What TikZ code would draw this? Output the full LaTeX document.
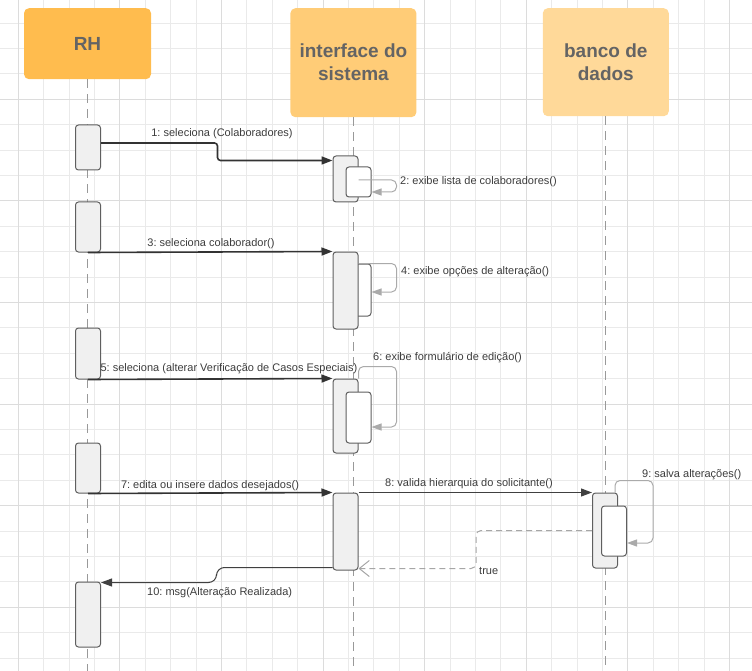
\documentclass[tikz,border=0pt]{standalone}
\usepackage{fontspec}
\setmainfont{Liberation Sans}
\usepackage{xcolor}
\definecolor{rhorange}{RGB}{255,188,78}
\definecolor{ifaceorange}{RGB}{255,204,119}
\definecolor{dborange}{RGB}{255,217,153}
\definecolor{gridminor}{RGB}{234,234,234}
\definecolor{gridmajor}{RGB}{220,220,220}
\definecolor{headtext}{RGB}{100,100,100}
\definecolor{msgtext}{RGB}{60,60,60}
\definecolor{boxline}{RGB}{95,95,95}
\definecolor{selfgrey}{RGB}{170,170,170}
\usetikzlibrary{arrows.meta, positioning, calc}
\frenchspacing

\begin{document}
\begin{tikzpicture}[x=1pt, y=-1pt,
    actor/.style={rectangle, rounded corners=5pt, minimum width=126, align=center,
                  text=headtext, font=\fontsize{19}{23}\selectfont\bfseries},
    actbox/.style={rectangle, rounded corners=3pt, draw=boxline, fill=black!6, line width=1pt,
                   minimum width=25, inner sep=0pt},
    subbox/.style={actbox, fill=white},
    lifeline/.style={dash pattern=on 9pt off 6pt, draw=black!40, line width=1pt},
    call/.style={-{Triangle[length=11pt,width=8pt]}, line width=1.6pt, black!80, rounded corners=3pt},
    selfcall/.style={-{Triangle[length=10pt,width=7pt]}, line width=1pt, selfgrey, rounded corners=5pt},
    thincall/.style={-{Triangle[length=11pt,width=8pt]}, line width=1pt, black!75, rounded corners=8pt},
    reply/.style={-{Straight Barb[length=10pt,width=16pt]}, dash pattern=on 6pt off 4pt,
                  line width=1pt, black!35, rounded corners=5pt},
    lbl/.style={text=msgtext, font=\fontsize{11}{13}\selectfont, inner sep=0pt, yshift=-1.5pt},
]
\useasboundingbox (0,0) rectangle (752,671);

% grid
\foreach \gx in {0,...,28} \draw[gridminor] ({18+25.4*\gx},0) -- ++(0,671);
\foreach \gy in {1,...,26} \draw[gridminor] (0,{-2.6+25.4*\gy}) -- ++(752,0);
\foreach \gx in {0,...,7} \draw[gridmajor] ({18+101.6*\gx},0) -- ++(0,671);
\foreach \gy in {1,...,6} \draw[gridmajor] (0,{-2.6+101.6*\gy}) -- ++(752,0);

% actors
\node[actor, fill=rhorange, minimum width=127, minimum height=71, anchor=north] (rh) at (87.5,8) {RH};
\node[actor, fill=ifaceorange, minimum height=109, right=139pt of rh.north east, anchor=north west] (iface) {interface do\\sistema};
\node[actor, fill=dborange, minimum height=108, right=126pt of iface.north east, anchor=north west] (db) {banco de\\dados};

% lifelines
\draw[lifeline] (rh.south) -- (rh.south |- 0,671);
\draw[lifeline] (iface.south) -- (iface.south |- 0,671);
\draw[lifeline] (db.south) -- (db.south |- 0,671);

% RH activations
\node[actbox, minimum height=45] (ra1) at (88,147.5) {};
\node[actbox, minimum height=50] (ra2) at (88,227) {};
\node[actbox, minimum height=51] (ra3) at (88,353.5) {};
\node[actbox, minimum height=50] (ra4) at (88,468) {};
\node[actbox, minimum height=65] (ra5) at (88,614.5) {};

% interface activations
\node[actbox, minimum height=46] (ia1) at (345.5,179) {};
\node[subbox, minimum height=30] (ib1) at (358.5,182) {};
\node[subbox, minimum height=52] (ib2) at (358.5,290) {};
\node[actbox, minimum height=77] (ia2) at (345.5,290.5) {};
\node[actbox, minimum height=74] (ia3) at (345.5,416) {};
\node[subbox, minimum height=51] (ib3) at (358.5,417.5) {};
\node[actbox, minimum height=77] (ia4) at (345.5,531.5) {};

% banco activations
\node[actbox, minimum height=75] (ba1) at (605,530.5) {};
\node[subbox, minimum height=50] (bb1) at (614,531) {};

% messages
\draw[call] ([yshift=4.5pt]ra1.east) -- ++(116.5,0) |- ([yshift=-5pt]ia1.north west);
\node[lbl] (l1) at (222,132) {1: seleciona (Colaboradores)};

\draw[selfcall] ([yshift=2pt]ib1.center) -- ++(38,0) |- ([yshift=-10pt]ib1.east);
\node[lbl, anchor=west] (l2) at (400,180) {2: exibe lista de colaboradores()};

\draw[call] (ra2.south) -- (ia2.north west);
\node[lbl] (l3) at (211,242) {3: seleciona colaborador()};

\draw[selfcall] ([yshift=-12pt]ia2.north east) -- ++(38,0) |- ([yshift=-2pt]ib2.east);
\node[lbl, anchor=west] (l4) at (401,270) {4: exibe opções de alteração()};

\draw[call] (ra3.south) -- (ia3.north west);
\node[lbl] (l5) at (229,367) {5: seleciona (alterar Verificação de Casos Especiais)};

\draw[selfcall] (ia3.north east) -- ++(0,-12) -- ++(38,0) |- ([yshift=-9.5pt]ib3.east);
\node[lbl, anchor=west] (l6) at (373,356) {6: exibe formulário de edição()};

\draw[call] (ra4.south) -- (ia4.north west);
\node[lbl] (l7) at (210,484) {7: edita ou insere dados desejados()};

\draw[thincall] (ia4.north east) -- (ba1.north west);
\node[lbl] (l8) at (469,482) {8: valida hierarquia do solicitante()};

\draw[selfcall] ([xshift=-3pt]ba1.north east) -- ++(0,-12) -- ++(38,0) |- ([yshift=-12pt]bb1.east);
\node[lbl, anchor=west] (l9) at (642,473) {9: salva alterações()};

\draw[reply] (ba1.west) -- ++(-116,0) |- ([yshift=2pt]ia4.south east);
\node[lbl, anchor=west] (ltrue) at (479,569) {true};

\draw[thincall] ([yshift=3pt]ia4.south west) -- ++(-116,0) |- ([yshift=-1pt]ra5.north east);
\node[lbl, anchor=west] (l10) at (147,591) {10: msg(Alteração Realizada)};

\end{tikzpicture}
\end{document}
